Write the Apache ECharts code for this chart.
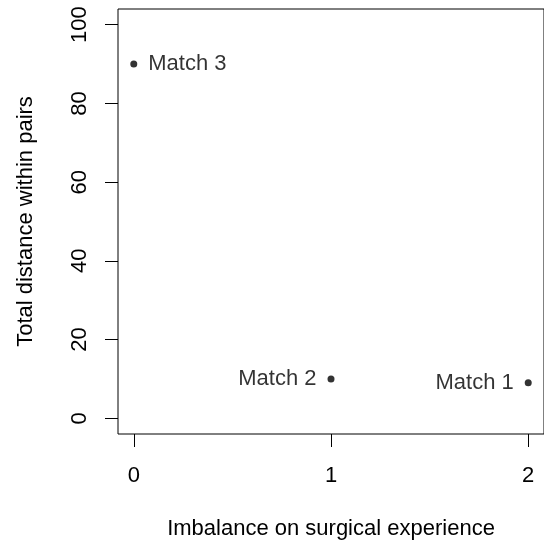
<!DOCTYPE html>
<html><head><meta charset="utf-8">
<script src="https://cdn.jsdelivr.net/npm/echarts@6/dist/echarts.min.js"></script>
<style>html,body{margin:0;padding:0;background:#fff}#c{width:544px;height:545px}</style>
</head><body><div id="c"></div>
<script>
const labels = ["Match 1", "Match 2", "Match 3"];
const imbalance = [2, 1, 0];
const distance = [9, 10, 90];
const labelSide = ["left", "left", "right"];
const xTicks = [0, 1, 2];
const yTicks = [0, 20, 40, 60, 80, 100];

const font = "Liberation Sans, Arial, Helvetica, sans-serif";
const FS = 22;
const chart = echarts.init(document.getElementById('c'), null, {renderer: 'canvas'});
chart.setOption({
  animation: false,
  backgroundColor: '#fff',
  grid: {left: 118, top: 9, width: 429, height: 429, show: true, borderColor: '#000', borderWidth: 1, containLabel: false},
  xAxis: {
    type: 'value', min: -0.08, max: 2.08,
    splitLine: {show: false},
    axisLine: {show: false, onZero: false},
    axisTick: {show: true, inside: false, length: 13, customValues: xTicks, lineStyle: {color: '#000'}},
    axisLabel: {customValues: xTicks, color: '#000', fontSize: FS, fontFamily: font, margin: 31, showMinLabel: true, showMaxLabel: true},
    name: 'Imbalance on surgical experience', nameLocation: 'middle', nameGap: 84, nameMoveOverlap: false,
    nameTextStyle: {color: '#000', fontSize: FS, fontFamily: font}
  },
  yAxis: {
    type: 'value', min: -4, max: 104,
    splitLine: {show: false},
    axisLine: {show: false, onZero: false},
    axisTick: {show: true, inside: false, length: 13, customValues: yTicks, lineStyle: {color: '#000'}},
    axisLabel: {customValues: yTicks, rotate: 90, color: '#000', fontSize: FS, fontFamily: font, margin: 27, align: 'center', verticalAlign: 'bottom'},
    name: 'Total distance within pairs', nameLocation: 'middle', nameGap: 81, nameMoveOverlap: false,
    nameTextStyle: {color: '#000', fontSize: FS, fontFamily: font}
  },
  series: [{
    type: 'scatter',
    symbol: 'circle', symbolSize: 7,
    itemStyle: {color: '#000'},
    data: labels.map((l, i) => ({
      value: [imbalance[i], distance[i]],
      label: {show: true, formatter: l, position: labelSide[i], distance: 11, color: '#000', fontSize: FS, fontFamily: font}
    }))
  }]
});
</script></body></html>
